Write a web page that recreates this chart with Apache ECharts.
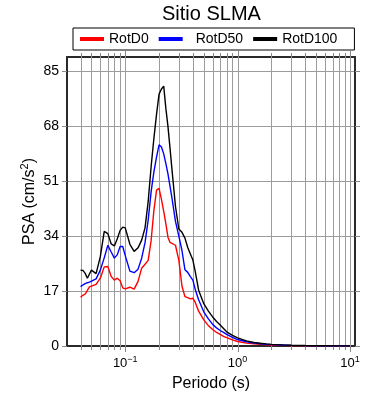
<!DOCTYPE html>
<html>
<head>
<meta charset="utf-8">
<script src="https://cdn.jsdelivr.net/npm/echarts@6/dist/echarts.min.js"></script>
<style>html,body{margin:0;padding:0;background:#fff}#c{width:390px;height:400px}</style>
</head>
<body>
<div id="c"></div>
<script>
// ---- data ----
const periods = [0.04, 0.042, 0.044, 0.046, 0.048, 0.05, 0.055, 0.06, 0.065, 0.07, 0.075, 0.08, 0.085, 0.09, 0.095,
  0.1, 0.11, 0.12, 0.13, 0.14, 0.15, 0.16, 0.17, 0.18, 0.19, 0.2, 0.21, 0.22, 0.23, 0.24, 0.25, 0.26,
  0.28, 0.3, 0.32, 0.34, 0.36, 0.38, 0.4, 0.42, 0.45, 0.5, 0.55, 0.6, 0.65, 0.7, 0.75, 0.8, 0.9, 1.0,
  1.2, 1.4, 1.6, 1.8, 2.0, 2.5, 3.0, 4.0, 5.0, 6.0, 8.0, 10.0];
const rotD0 = [15.1, 15.7, 16.1, 17.2, 18.3, 18.9, 19.1, 21.0, 24.5, 24.6, 21.5, 20.4, 21.0, 20.2, 18.0,
  17.7, 18.2, 17.6, 20.0, 24.1, 25.3, 26.5, 32.7, 42.1, 48.3, 48.8, 45.4, 41.7, 37.8, 33.7, 32.1, 32.7,
  31.2, 26.5, 18.5, 15.3, 15.0, 14.6, 14.8, 13.5, 10.8, 8.1, 6.3, 5.1, 4.2, 3.6, 3.0, 2.6, 1.9, 1.4,
  0.9, 0.65, 0.5, 0.4, 0.3, 0.2, 0.14, 0.08, 0.06, 0.04, 0.03, 0.02];
const rotD50 = [18.4, 18.9, 19.3, 19.6, 19.8, 19.9, 20.8, 23.5, 27.3, 31.2, 29.1, 27.2, 28.3, 30.8, 30.8,
  28.0, 23.2, 22.7, 23.8, 27.2, 32.0, 39.0, 47.8, 54.0, 58.6, 62.3, 61.6, 59.5, 56.5, 53.3, 49.6, 46.0,
  38.6, 34.0, 29.5, 23.6, 22.8, 21.5, 20.4, 17.5, 14.3, 10.6, 8.4, 6.7, 5.6, 4.8, 4.2, 3.6, 2.7, 2.0,
  1.3, 0.9, 0.7, 0.55, 0.42, 0.3, 0.2, 0.12, 0.08, 0.06, 0.04, 0.03];
const rotD100 = [23.5, 23.4, 22.5, 21.0, 22.3, 23.5, 22.4, 27.7, 35.5, 34.8, 31.6, 31.0, 33.2, 35.8, 36.8,
  36.6, 31.5, 29.3, 30.4, 32.8, 36.6, 44.7, 55.6, 64.4, 71.8, 78.0, 79.6, 80.5, 73.5, 68.0, 61.5, 55.0,
  43.2, 36.2, 35.2, 33.4, 30.5, 28.5, 26.6, 23.0, 17.3, 13.1, 10.8, 9.0, 7.6, 6.5, 5.4, 4.4, 3.3, 2.5,
  1.6, 1.1, 0.85, 0.65, 0.5, 0.35, 0.25, 0.15, 0.1, 0.08, 0.05, 0.04];
const seriesNames = ['RotD0', 'RotD50', 'RotD100'];
const seriesColors = ['#ff0000', '#0000ff', '#000000'];
const yTickValues = [0, 17, 34, 51, 68, 85];
const xGridValues = [0.04, 0.05, 0.06, 0.07, 0.08, 0.09, 0.1, 0.2, 0.3, 0.4, 0.5, 0.6, 0.7, 0.8, 0.9,
  1, 2, 3, 4, 5, 6, 7, 8, 9, 10];

// ---- layout / style ----
const X_MIN = 0.0303, X_MAX = 11.1, Y_MIN = 0, Y_MAX = 89.5;
const FONT = "'Liberation Sans', Arial, sans-serif";
const FRAME = '#2a2a2a';
const GRID_C = '#9c9c9c';
const TICK_C = '#8a8a8a';

function pairs(vals) { return periods.map((p, i) => [p, vals[i]]); }
const allSeries = [rotD0, rotD50, rotD100];

function xFmt(v) {
  const l = Math.log10(v);
  const e = Math.round(l);
  if (Math.abs(l - e) > 1e-6) return '';
  return '{b|10}{s|' + (e < 0 ? '\u2212' : '') + Math.abs(e) + '}';
}

const chart = echarts.init(document.getElementById('c'), null, {renderer: 'canvas'});
const option = {
  backgroundColor: '#fff',
  animation: false,
  title: {
    text: 'Sitio SLMA', left: 162, top: 4, padding: 0,
    textStyle: {fontFamily: FONT, fontSize: 20, fontWeight: 'normal', color: '#000'}
  },
  legend: {
    left: 73, top: 28, padding: [4, 17, 4, 7],
    borderColor: '#000', borderWidth: 1,
    itemWidth: 24, itemHeight: 4, itemGap: 10, icon: 'rect',
    textStyle: {fontFamily: FONT, fontSize: 14, color: '#000'},
    data: [
      {name: seriesNames[0]},
      {name: seriesNames[1], textStyle: {padding: [0, 2, 0, 8]}},
      {name: seriesNames[2]}
    ]
  },
  grid: {left: 67, right: 35, top: 57, bottom: 54},
  xAxis: [{
    type: 'log', logBase: 10, min: X_MIN, max: X_MAX, position: 'bottom',
    axisLine: {show: true, onZero: false, lineStyle: {color: FRAME, width: 2}},
    axisTick: {show: false}, splitLine: {show: false}, minorTick: {show: false},
    axisLabel: {
      margin: 9, formatter: xFmt, color: '#000',
      rich: {
        b: {fontFamily: FONT, fontSize: 13, color: '#000', lineHeight: 16},
        s: {fontFamily: FONT, fontSize: 9, color: '#000', verticalAlign: 'top', lineHeight: 9}
      }
    },
    name: 'Periodo (s)', nameLocation: 'middle', nameGap: 30, nameMoveOverlap: false,
    nameTextStyle: {fontFamily: FONT, fontSize: 16, color: '#000'}
  }, {
    type: 'log', logBase: 10, min: X_MIN, max: X_MAX, position: 'top',
    axisLine: {show: true, onZero: false, lineStyle: {color: FRAME, width: 2}},
    axisTick: {show: false}, splitLine: {show: false}, axisLabel: {show: false}
  }],
  yAxis: [{
    type: 'value', min: Y_MIN, max: Y_MAX, interval: 17, position: 'left',
    axisLine: {show: true, onZero: false, lineStyle: {color: FRAME, width: 2}},
    axisTick: {show: true, inside: false, length: 5, customValues: yTickValues, lineStyle: {color: TICK_C}},
    axisLabel: {margin: 8, customValues: yTickValues, fontFamily: FONT, fontSize: 14, color: '#000'},
    splitLine: {show: true, lineStyle: {color: GRID_C, width: 1}},
    name: 'PSA (cm/s{s|2})', nameLocation: 'middle', nameGap: 26, nameRotate: 90, nameMoveOverlap: false,
    nameTextStyle: {
      fontFamily: FONT, fontSize: 16, color: '#000', lineHeight: 22,
      rich: {s: {fontFamily: FONT, fontSize: 11, color: '#000', verticalAlign: 'top', lineHeight: 11}}
    }
  }, {
    type: 'value', min: Y_MIN, max: Y_MAX, interval: 17, position: 'right',
    axisLine: {show: true, onZero: false, lineStyle: {color: FRAME, width: 2}},
    axisTick: {show: true, inside: false, length: 5, customValues: yTickValues, lineStyle: {color: TICK_C}},
    axisLabel: {show: false}, splitLine: {show: false}
  }],
  series: [{
    type: 'custom', name: 'xgrid', silent: true, clip: false, z: 1,
    xAxisIndex: 0, yAxisIndex: 0,
    encode: {x: 0, y: 1},
    data: xGridValues.map(v => [v, 0]),
    renderItem: function (params, api) {
      const v = api.value(0);
      const b = api.coord([v, Y_MIN]);
      const t = api.coord([v, Y_MAX]);
      const l = Math.log10(v);
      const major = Math.abs(l - Math.round(l)) < 1e-6;
      const tl = major ? 6 : 4;
      const x = Math.round(b[0]) + 0.5;
      return {
        type: 'group', children: [
          {type: 'line', shape: {x1: x, y1: t[1], x2: x, y2: b[1]}, style: {stroke: GRID_C, lineWidth: 1}},
          {type: 'line', shape: {x1: x, y1: b[1], x2: x, y2: b[1] + tl}, style: {stroke: TICK_C, lineWidth: 1}},
          {type: 'line', shape: {x1: x, y1: t[1], x2: x, y2: t[1] - tl}, style: {stroke: TICK_C, lineWidth: 1}}
        ]
      };
    }
  }].concat(allSeries.map((vals, i) => ({
    type: 'line', name: seriesNames[i], data: pairs(vals),
    xAxisIndex: 0, yAxisIndex: 0,
    symbol: 'none', z: 3 + i,
    itemStyle: {color: seriesColors[i]},
    lineStyle: {color: seriesColors[i], width: 1.4}
  })))
};
chart.setOption(option);
</script>
</body>
</html>
